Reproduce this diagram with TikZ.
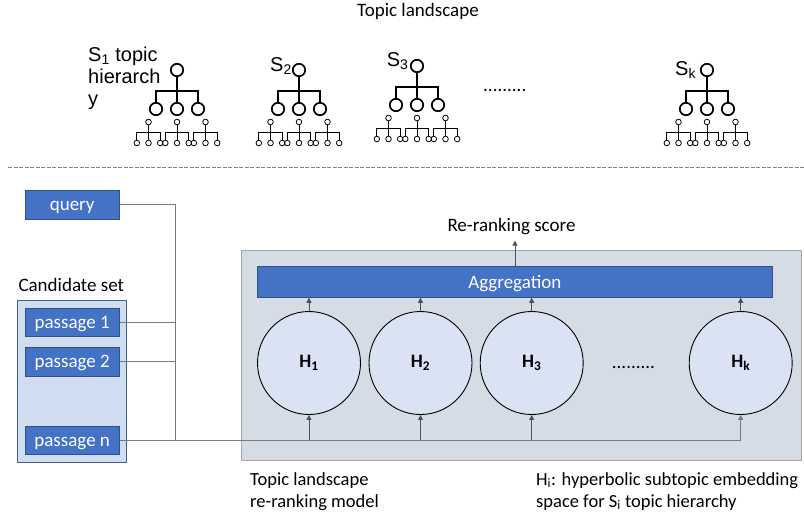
\documentclass[tikz,border=0pt]{standalone}
\usepackage{fontspec}
\setmainfont{Carlito}
\newfontfamily\arialf{Liberation Sans}
\usetikzlibrary{arrows.meta}

\definecolor{boxblue}{HTML}{4472C4}
\definecolor{boxedge}{HTML}{2F528F}
\definecolor{candfill}{HTML}{D0DCF0}
\definecolor{candedge}{HTML}{3F5F95}
\definecolor{panelfill}{HTML}{D6DCE5}
\definecolor{paneledge}{HTML}{A6A6A6}
\definecolor{circfill}{HTML}{DAE3F3}
\definecolor{wire}{HTML}{7A7A7A}
\definecolor{darkwire}{HTML}{505050}

\tikzset{
  txt/.style={font=\fontsize{19}{22}\selectfont, inner sep=0pt},
  note/.style={font=\fontsize{18.5}{22}\selectfont, inner sep=0pt, align=left},
  treelabel/.style={font=\arialf\fontsize{20}{22}\selectfont, inner sep=0pt, align=left},
  bluebox/.style={draw=boxedge, line width=0.9pt, fill=boxblue, text=white,
    font=\fontsize{19}{22}\selectfont, inner sep=0pt, minimum width=94.3pt, minimum height=28.3pt,
    text height=15pt, text depth=3pt},
  candbox/.style={draw=candedge, line width=1pt, fill=candfill, inner sep=0pt,
    minimum width=109.4pt, minimum height=162pt},
  panel/.style={draw=paneledge, line width=1pt, fill=panelfill, inner sep=0pt,
    minimum width=560pt, minimum height=210.4pt},
  hcirc/.style={circle, draw=black, line width=0.9pt, fill=circfill, minimum size=103pt,
    inner sep=0pt, font=\bfseries\fontsize{19}{22}\selectfont},
  wireline/.style={draw=wire, line width=0.9pt},
  uparrow/.style={draw=darkwire, line width=0.8pt, -{Triangle[length=5pt,width=5pt]}},
  treebig/.style={draw=black, line width=1.7pt},
  treesmall/.style={draw=black, line width=0.8pt},
  sep/.style={draw=gray, line width=1pt, dash pattern=on 4pt off 1.5pt},
}

% one topic hierarchy: root, three subtopics, three small sub-hierarchies
\newcommand\topictree[2]{%
  \begin{scope}[shift={(#1,#2)}]
    \draw[treebig] (0,0) circle[radius=6.2];
    \draw[treebig] (0,6.2) -- (0,21);
    \draw[treebig] (-21,32.8) -- (-21,21) -- (21,21) -- (21,32.8);
    \draw[treebig] (0,21) -- (0,32.8);
    \foreach \u in {-21,0,21}{\draw[treebig] (\u,39) circle[radius=6.2];}
    \foreach \v in {-28.5,0,28.5}{
      \draw[treesmall] (\v,52) circle[radius=2.8];
      \draw[treesmall] (\v,54.8) -- (\v,62);
      \draw[treesmall] (\v-11.7,70.2) -- (\v-11.7,62) -- (\v+11.7,62) -- (\v+11.7,70.2);
      \draw[treesmall] (\v,62) -- (\v,70.2);
      \foreach \w in {-11.7,0,11.7}{\draw[treesmall] (\v+\w,73) circle[radius=2.8];}
    }
  \end{scope}}

\begin{document}
\begin{tikzpicture}[x=1pt,y=-1pt]
  \useasboundingbox (0,0) rectangle (804,520);

  % ---- topic landscape ----
  \node[txt, anchor=base] (title) at (418,16) {Topic landscape};

  \topictree{177}{70}
  \topictree{299}{70}
  \topictree{417}{66}
  \topictree{707}{70}

  \node[treelabel, anchor=north west] (s1) at (88,46.5) {S\textsubscript{1} topic\\hierarch\\y};
  \node[treelabel, anchor=base west] (s2) at (270,71.7) {S\textsubscript{2}};
  \node[treelabel, anchor=base west] (s3) at (386.7,66.7) {S\textsubscript{3}};
  \node[treelabel, anchor=base west] (sk) at (675,75.5) {S\textsubscript{k}};
  \node[txt, anchor=base west] (tdots) at (483,91) {.........};

  % separator
  \coordinate (sepl) at (8,167);
  \coordinate (sepr) at (804,167);
  \draw[sep] (sepl) -- (sepr);

  % ---- inputs ----
  \node[bluebox] (query) at (72.2,204.9) {query};
  \node[txt, anchor=base west] (candlabel) at (18.3,291.7) {Candidate set};
  \node[candbox] (cand) at (72,381.7) {};
  \node[bluebox] (p1) at (72.2,322.5) {passage 1};
  \node[bluebox] (p2) at (72.2,361.9) {passage 2};
  \node[bluebox] (pn) at (72.2,440.2) {passage n};

  % ---- re-ranking model ----
  \node[panel] (panel) at (521.7,355.5) {};
  \node[bluebox, minimum width=515pt, minimum height=30.6pt] (agg) at (514.8,282) {Aggregation};

  \node[hcirc] (h1) at (309,363) {H\textsubscript{1}};
  \node[hcirc] (h2) at (420.5,363) {H\textsubscript{2}};
  \node[hcirc] (h3) at (531.7,363) {H\textsubscript{3}};
  \node[hcirc] (hk) at (740.7,363) {H\textsubscript{k}};
  \node[txt, anchor=base west] (hdots) at (611.7,368) {.........};

  \node[txt, anchor=base west] (score) at (447.3,231.7) {Re-ranking score};
  \coordinate (scoretip) at (515,240.7);

  % ---- connectors ----
  \coordinate (bus) at (175,440.2);
  \draw[wireline] (query.east) -| (bus);
  \draw[wireline] (p1.east) -- (p1.east -| bus);
  \draw[wireline] (p2.east) -- (p2.east -| bus);
  \draw[uparrow, draw=wire] (pn.east) -| (hk.south);
  \foreach \h in {h1,h2,h3}{
    \draw[uparrow] (\h.south |- pn.east) -- (\h.south);
  }
  \foreach \h in {h1,h2,h3,hk}{
    \draw[uparrow] (\h.north) -- (\h.north |- agg.south);
  }
  \draw[uparrow] (agg.north -| scoretip) -- (scoretip);

  % ---- notes (anchored on the baseline of their last line) ----
  \node[note, anchor=base west] (modelnote) at (250,507) {Topic landscape\\re-ranking model};
  \node[note, anchor=base west] (hnote) at (536,507) {H\textsubscript{i}: hyperbolic subtopic embedding\\space for S\textsubscript{i} topic hierarchy};
\end{tikzpicture}
\end{document}
